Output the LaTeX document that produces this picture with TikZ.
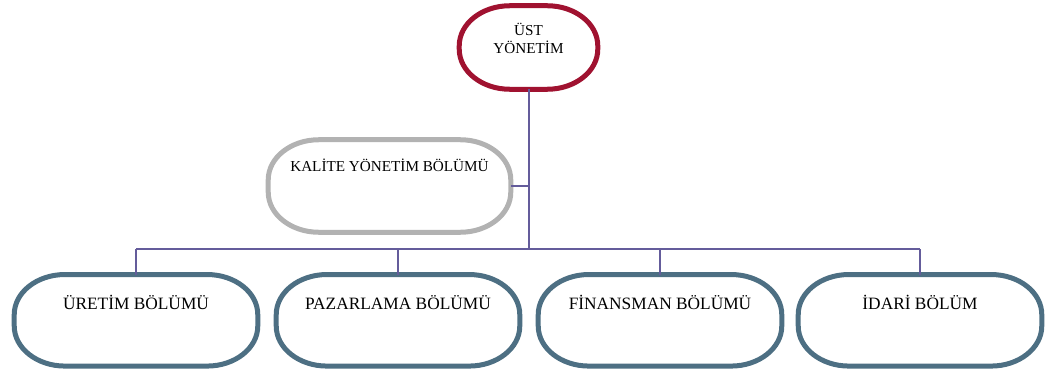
\documentclass[tikz,border=0pt]{standalone}
\usepackage{fontspec}
\setmainfont{Liberation Serif}
\definecolor{topred}{RGB}{160,18,48}
\definecolor{kalgray}{RGB}{178,178,178}
\definecolor{deptblue}{RGB}{77,111,131}
\definecolor{linkblue}{RGB}{100,92,155}
\begin{document}
\begin{tikzpicture}
	[x=0.75pt,y=0.75pt,
	box/.style={inner sep=0pt,align=center,text=black},
	topbox/.style={box,minimum width=103.5pt,minimum height=62.25pt,text height=35.5pt,text depth=26.75pt,font=\fontsize{11.4}{13.2}\selectfont},
	kalbox/.style={box,minimum width=181.5pt,minimum height=69pt,text height=23.5pt,text depth=45.5pt,font=\fontsize{11.4}{13.2}\selectfont},
	deptbox/.style={box,minimum width=182.25pt,minimum height=68.25pt,text height=26.3pt,text depth=41.95pt,font=\fontsize{13}{15.6}\selectfont},
	outline/.style={line width=3.75pt,line join=round},
	link/.style={draw=linkblue,line width=1.5pt}]
	\useasboundingbox (0,0) rectangle (1045,372);
	% top and staff
	\node[topbox] (ust) at (528.5,324.5) {ÜST\\YÖNETİM};
	\node[kalbox] (kalite) at (389.5,186) {KALİTE YÖNETİM BÖLÜMÜ};
	% departments
	\node[deptbox] (uretim) at (136,51.7) {ÜRETİM BÖLÜMÜ};
	\node[deptbox] (pazarlama) at (398,51.7) {PAZARLAMA BÖLÜMÜ};
	\node[deptbox] (finansman) at (660,51.7) {FİNANSMAN BÖLÜMÜ};
	\node[deptbox] (idari) at (920,51.7) {İDARİ BÖLÜM};
	% rounded outlines
	\foreach \n/\c in {ust/topred,kalite/kalgray,uretim/deptblue,pazarlama/deptblue,finansman/deptblue,idari/deptblue}
		\draw[outline,draw=\c] ([xshift=38pt]\n.north west) -- ([xshift=-38pt]\n.north east)
			arc[start angle=90,end angle=0,x radius=38pt,y radius=30pt] -- ([yshift=30pt]\n.south east)
			arc[start angle=0,end angle=-90,x radius=38pt,y radius=30pt] -- ([xshift=38pt]\n.south west)
			arc[start angle=270,end angle=180,x radius=38pt,y radius=30pt] -- ([yshift=-30pt]\n.north west)
			arc[start angle=180,end angle=90,x radius=38pt,y radius=30pt] -- cycle;
	% connectors
	\coordinate (bus) at (528.5,123);
	\draw[link] (ust.south) -- (bus);
	\draw[link] (kalite.east) -- (kalite.east -| bus);
	\draw[link] (uretim.north |- bus) -- (idari.north |- bus);
	\foreach \d in {uretim,pazarlama,finansman,idari}
		\draw[link] (\d.north |- bus) -- (\d.north);
\end{tikzpicture}
\end{document}
